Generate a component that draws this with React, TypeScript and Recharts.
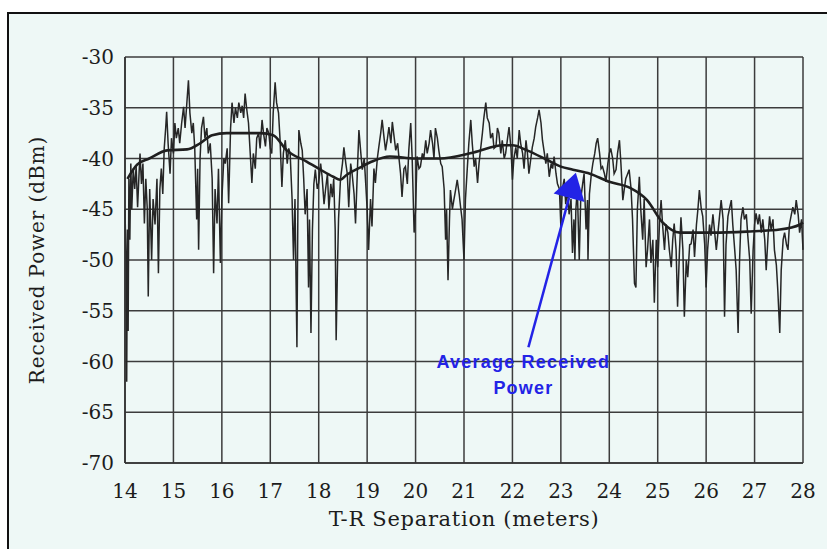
import React from "react"
import { LineChart, Line, XAxis, YAxis, CartesianGrid, ReferenceLine } from "recharts"

// instantaneous received power, [T-R separation (m), power (dBm)]
const fadingTrace: [number, number][] = [
  [14.0, -45], [14.02, -50], [14.035, -62], [14.05, -47], [14.065, -57], [14.08, -42], [14.1, -48],
  [14.12, -40.5], [14.14, -45], [14.17, -41], [14.2, -43], [14.23, -40.8], [14.26, -44.8], [14.29, -41.5],
  [14.31, -39.5], [14.34, -42.5], [14.37, -40.5], [14.4, -46.4], [14.43, -42], [14.46, -45], [14.48, -53.6],
  [14.51, -43], [14.55, -50], [14.58, -44], [14.62, -46.5], [14.66, -42], [14.69, -51.3], [14.72, -43],
  [14.75, -41], [14.78, -43.5], [14.81, -39], [14.84, -37], [14.86, -35.4], [14.89, -38.5], [14.93, -41.5],
  [14.96, -38], [15.0, -39.5], [15.03, -36.5], [15.06, -38], [15.1, -37], [15.13, -38.5], [15.17, -36.5],
  [15.21, -34.9], [15.24, -37], [15.27, -35], [15.31, -32.3], [15.34, -35.5], [15.38, -37.5], [15.41, -36.5],
  [15.44, -39], [15.48, -46], [15.5, -41], [15.52, -49], [15.55, -40], [15.58, -37], [15.62, -35.9],
  [15.65, -38], [15.69, -37], [15.72, -39.5], [15.76, -38.5], [15.8, -42], [15.83, -51.3], [15.86, -43],
  [15.9, -46.4], [15.93, -41], [15.97, -50.3], [16.0, -44], [16.04, -40], [16.07, -40.5], [16.11, -39],
  [16.14, -44.4], [16.18, -37], [16.21, -34.5], [16.25, -36.5], [16.28, -35], [16.32, -36], [16.35, -34.5],
  [16.39, -35.5], [16.42, -34.8], [16.45, -36], [16.48, -33.6], [16.51, -35], [16.55, -36.5], [16.58, -39],
  [16.62, -42.4], [16.65, -39.5], [16.69, -41], [16.72, -38], [16.76, -37.5], [16.79, -39], [16.83, -36.2],
  [16.86, -37.5], [16.9, -38.8], [16.93, -37], [16.97, -37.5], [17.0, -39], [17.03, -39.5], [17.06, -35.5],
  [17.1, -32.5], [17.13, -34.5], [17.17, -35.5], [17.2, -38], [17.24, -42.8], [17.27, -39.5], [17.31, -38.2],
  [17.35, -40.5], [17.38, -39], [17.41, -39.5], [17.45, -44], [17.48, -50], [17.51, -44], [17.55, -58.6],
  [17.57, -45], [17.59, -37.2], [17.63, -38.5], [17.66, -39.2], [17.69, -42], [17.72, -45.5], [17.76, -43],
  [17.79, -52.7], [17.81, -46], [17.84, -57.2], [17.87, -47], [17.9, -42.5], [17.93, -41.1], [17.97, -43],
  [18.0, -42.4], [18.04, -40.5], [18.07, -41.8], [18.11, -44.5], [18.14, -43.1], [18.18, -41.5], [18.21, -45],
  [18.25, -42.5], [18.28, -43.8], [18.31, -42], [18.34, -47], [18.36, -57.9], [18.39, -50], [18.41, -45.9],
  [18.45, -42], [18.49, -40.5], [18.52, -38.9], [18.56, -40.5], [18.59, -41.5], [18.62, -44.8], [18.66, -40.5],
  [18.69, -41.5], [18.73, -43.5], [18.76, -46.4], [18.8, -41], [18.83, -37.2], [18.87, -39.5], [18.9, -41.1],
  [18.94, -40], [18.97, -42.4], [19.0, -45], [19.03, -49], [19.07, -44], [19.1, -46.7], [19.14, -41],
  [19.17, -42.4], [19.21, -40], [19.24, -38.9], [19.28, -37.5], [19.31, -36.2], [19.35, -38], [19.38, -39.2],
  [19.42, -38], [19.45, -36.9], [19.49, -38.5], [19.52, -36.4], [19.56, -38], [19.59, -39.2], [19.63, -38.5],
  [19.66, -40.1], [19.69, -41.5], [19.72, -43.8], [19.76, -41], [19.79, -40.8], [19.83, -42.5], [19.86, -39.2],
  [19.9, -36.5], [19.93, -40], [19.97, -47.3], [20.0, -45], [20.03, -39.8], [20.07, -41], [20.1, -40.8],
  [20.14, -39.5], [20.17, -40], [20.21, -38.2], [20.24, -39.5], [20.28, -38.5], [20.31, -37.2], [20.35, -38.5],
  [20.38, -40], [20.41, -37], [20.45, -38], [20.48, -39.2], [20.52, -40.5], [20.55, -40.8], [20.59, -43],
  [20.62, -48], [20.64, -45], [20.67, -52], [20.7, -46], [20.72, -43.1], [20.76, -45], [20.79, -44.1],
  [20.83, -43], [20.86, -42.1], [20.9, -43.5], [20.93, -44.8], [20.96, -46], [21.0, -50], [21.03, -44],
  [21.07, -40.8], [21.1, -38.5], [21.14, -36.2], [21.17, -38.5], [21.21, -40.8], [21.24, -40], [21.28, -42.4],
  [21.31, -40.5], [21.34, -39.2], [21.38, -37.5], [21.41, -36], [21.45, -34.5], [21.48, -36], [21.52, -36.5],
  [21.55, -38], [21.59, -37.5], [21.62, -39], [21.66, -38.8], [21.69, -37], [21.72, -37.5], [21.76, -39.5],
  [21.79, -38.2], [21.83, -40], [21.86, -39.5], [21.9, -38], [21.93, -36.9], [21.97, -39], [22.0, -42.1],
  [22.03, -40], [22.07, -38.9], [22.1, -40], [22.14, -37.2], [22.17, -38.5], [22.21, -39.5], [22.24, -41],
  [22.28, -38.2], [22.31, -39.5], [22.34, -41.5], [22.38, -40], [22.41, -38.9], [22.45, -38], [22.48, -36.9],
  [22.52, -36], [22.55, -35.2], [22.59, -36.5], [22.62, -38.2], [22.66, -39.5], [22.69, -40.5], [22.72, -39.5],
  [22.76, -41.8], [22.8, -40.5], [22.83, -41], [22.86, -39.8], [22.9, -41.5], [22.93, -42.5], [22.97, -43],
  [23.0, -46.7], [23.03, -43], [23.07, -42], [23.1, -44.5], [23.14, -43], [23.17, -45.5], [23.21, -44],
  [23.24, -49.3], [23.27, -46], [23.29, -50], [23.31, -45], [23.34, -43], [23.38, -50], [23.41, -44],
  [23.45, -42.5], [23.48, -41.5], [23.52, -47], [23.55, -44.1], [23.56, -50], [23.59, -43.5], [23.63, -41.5],
  [23.66, -40.5], [23.7, -39.5], [23.73, -38.5], [23.76, -38], [23.8, -39.5], [23.83, -41], [23.86, -40.8],
  [23.9, -41.5], [23.93, -42.3], [23.97, -40.5], [24.0, -39.5], [24.03, -39], [24.07, -40], [24.1, -41.5],
  [24.14, -41.1], [24.17, -39.5], [24.21, -38.2], [24.24, -40.5], [24.28, -44.1], [24.31, -43], [24.34, -42],
  [24.38, -41.5], [24.41, -41.1], [24.45, -43], [24.48, -46], [24.52, -52.3], [24.55, -52.7], [24.58, -45],
  [24.62, -41.8], [24.65, -45], [24.69, -48], [24.72, -44], [24.76, -50.7], [24.79, -49], [24.83, -46],
  [24.86, -50.3], [24.9, -48], [24.93, -54.2], [24.97, -48], [25.0, -50.7], [25.04, -46], [25.07, -44.1],
  [25.1, -46.5], [25.14, -49], [25.17, -46.5], [25.21, -47.3], [25.24, -49], [25.28, -50.7], [25.31, -48],
  [25.34, -46.4], [25.38, -49], [25.41, -54.6], [25.45, -49], [25.48, -45.8], [25.52, -49], [25.55, -55.6],
  [25.59, -50], [25.62, -51.7], [25.66, -48.5], [25.69, -48.4], [25.73, -47], [25.76, -49.7], [25.8, -46.5],
  [25.83, -45], [25.86, -43.1], [25.9, -45], [25.93, -45.7], [25.97, -48.5], [26.0, -52.7], [26.03, -49],
  [26.07, -46.5], [26.1, -47.6], [26.14, -45.5], [26.17, -47], [26.21, -49], [26.24, -47.5], [26.28, -45.5],
  [26.31, -44.1], [26.35, -46], [26.38, -55.6], [26.41, -48.5], [26.45, -45.7], [26.48, -45], [26.52, -44.1],
  [26.55, -46.5], [26.59, -49], [26.62, -51], [26.66, -57.2], [26.69, -50], [26.72, -46], [26.76, -44.8],
  [26.79, -46], [26.83, -45.5], [26.86, -47.6], [26.9, -50], [26.93, -55.3], [26.97, -49], [27.0, -46.5],
  [27.03, -45.4], [27.07, -46.5], [27.1, -45.5], [27.14, -47.3], [27.17, -46], [27.21, -48], [27.24, -51],
  [27.28, -47.5], [27.31, -45.7], [27.34, -47], [27.38, -46], [27.41, -49], [27.45, -50.5], [27.48, -53],
  [27.52, -57.2], [27.55, -51], [27.59, -48], [27.62, -47.3], [27.66, -48.5], [27.69, -49], [27.72, -46.5],
  [27.76, -45.5], [27.79, -44.8], [27.83, -45.5], [27.86, -44.1], [27.9, -45.5], [27.93, -47.3], [27.97, -46],
  [28.0, -49],
]

// local (sliding window) average
const averageDistance = [14.05, 14.25, 14.5, 14.87, 15.28, 15.55, 15.8, 16.1, 16.44, 16.8, 17.06, 17.34, 17.75,
  18.0, 18.3, 18.44, 18.58, 18.85, 19.1, 19.47, 20.0, 20.5, 21.2, 21.8, 22.0, 22.3, 22.7, 23.0, 23.25, 23.6,
  24.0, 24.43, 24.78, 25.1, 25.46, 26.14, 26.84, 27.52, 27.94, 28.0]
const averagePower = [-42, -40.6, -40, -39.2, -39.1, -38.5, -37.7, -37.5, -37.5, -37.5, -37.7, -39.2, -40.3,
  -41, -41.8, -42.1, -41.6, -40.9, -40.3, -39.8, -40, -40, -39.4, -38.7, -38.7, -39.2, -40.1, -40.8, -41.1, -41.5,
  -42.3, -42.9, -44.1, -46.3, -47.3, -47.3, -47.2, -47, -46.5, -46.3]

const xTicks = [14, 15, 16, 17, 18, 19, 20, 21, 22, 23, 24, 25, 26, 27, 28]
const xMinorTicks = [14.5, 15.5, 16.5, 17.5, 18.5, 19.5, 20.5, 21.5, 22.5, 23.5, 24.5, 25.5, 26.5, 27.5]
const yTicks = [-70, -65, -60, -55, -50, -45, -40, -35, -30]
const yMinorTicks = [-67.5, -62.5, -57.5, -52.5, -47.5, -42.5, -37.5, -32.5]

const fadingData = fadingTrace.map(([d, p]) => ({ d, p }))
const averageData = averageDistance.map((d, i) => ({ d, p: averagePower[i] }))

const serif = "'DejaVu Serif', 'Liberation Serif', serif"
const ink = "#1c1c1c"
const annotBlue = "#2323e6"

const XTick = ({ x, y, payload }: any) => (
  <text x={x} y={y + 35} textAnchor="middle" fontFamily={serif} fontSize={20} fill={ink}>
    {payload.value}
  </text>
)

const YTick = ({ x, y, payload }: any) => (
  <text x={x - 11} y={y + 7} textAnchor="end" fontFamily={serif} fontSize={20} fill={ink}>
    {payload.value}
  </text>
)

// arrow pointing at the average curve, with its caption under the tail
const AnnotationArrow = ({ x1, y1, x2, y2 }: any) => {
  const dx = x2 - x1
  const dy = y2 - y1
  const len = Math.sqrt(dx * dx + dy * dy)
  const ux = dx / len
  const uy = dy / len
  const bx = x2 - ux * 26
  const by = y2 - uy * 26
  const head = `${x2},${y2} ${bx - uy * 16},${by + ux * 16} ${bx + uy * 16},${by - ux * 16}`
  return (
    <g>
      <line x1={x1} y1={y1} x2={bx} y2={by} stroke={annotBlue} strokeWidth={2.5} />
      <polygon points={head} fill={annotBlue} />
      <text x={x1 - 5} y={y1 + 21} textAnchor="middle" fontFamily="'Liberation Sans', Arial, sans-serif"
        fontWeight="bold" fontSize={18} letterSpacing={1.2} fill={annotBlue}>
        Average Received
      </text>
      <text x={x1 - 5} y={y1 + 47} textAnchor="middle" fontFamily="'Liberation Sans', Arial, sans-serif"
        fontWeight="bold" fontSize={18} letterSpacing={1.2} fill={annotBlue}>
        Power
      </text>
    </g>
  )
}

export default function App() {
  return (
    <div style={{ position: "absolute", left: 0, top: 0, width: 827, height: 549, background: "#fff", overflow: "hidden" }}>
      <div
        style={{
          position: "absolute", left: 7, top: 12, width: 840, height: 560,
          borderLeft: "2px solid #111", borderTop: "2px solid #111", background: "#eef8f6",
        }}
      />
      <div style={{ position: "absolute", left: 0, top: 0 }}>
        <LineChart width={827} height={549} margin={{ top: 57, right: 24, left: 15, bottom: 23 }}>
          <CartesianGrid stroke="#3c3c3c" strokeWidth={1.5} />
          <XAxis
            dataKey="d"
            type="number"
            domain={[14, 28]}
            ticks={xTicks}
            interval={0}
            height={63}
            tickSize={0}
            tickMargin={0}
            axisLine={{ stroke: "#333", strokeWidth: 1.6 }}
            tickLine={false}
            tick={<XTick />}
            label={{ value: "T-R Separation (meters)", position: "insideBottom", offset: 0, fontFamily: serif, fontSize: 21, letterSpacing: 0.7, fill: ink }}
          />
          <XAxis xAxisId="minor" dataKey="d" type="number" domain={[14, 28]} ticks={xMinorTicks} interval={0}
            mirror height={0} tick={false} axisLine={false} tickSize={5} tickLine={{ stroke: "#444", strokeWidth: 1.2 }} />
          <YAxis
            dataKey="p"
            type="number"
            domain={[-70, -30]}
            ticks={yTicks}
            interval={0}
            width={110}
            tickSize={0}
            tickMargin={0}
            axisLine={{ stroke: "#333", strokeWidth: 1.6 }}
            tickLine={false}
            tick={<YTick />}
            label={{ value: "Received Power (dBm)", angle: -90, position: "insideLeft", offset: 22, fontFamily: serif, fontSize: 20, letterSpacing: 0.9, fill: ink, style: { textAnchor: "middle" } }}
          />
          <YAxis yAxisId="minor" dataKey="p" type="number" domain={[-70, -30]} ticks={yMinorTicks} interval={0}
            mirror width={0} tick={false} axisLine={false} tickSize={5} tickLine={{ stroke: "#444", strokeWidth: 1.2 }} />
          <Line data={fadingData} dataKey="p" type="linear" stroke="#262626" strokeWidth={1.5} dot={false} isAnimationActive={false} />
          <Line data={averageData} dataKey="p" type="monotone" stroke="#1f1f1f" strokeWidth={2.6} dot={false} isAnimationActive={false} />
          <ReferenceLine
            segment={[{ x: 22.33, y: -58.6 }, { x: 23.31, y: -41.4 }]}
            ifOverflow="visible"
            shape={<AnnotationArrow />}
          />
        </LineChart>
      </div>
    </div>
  )
}
